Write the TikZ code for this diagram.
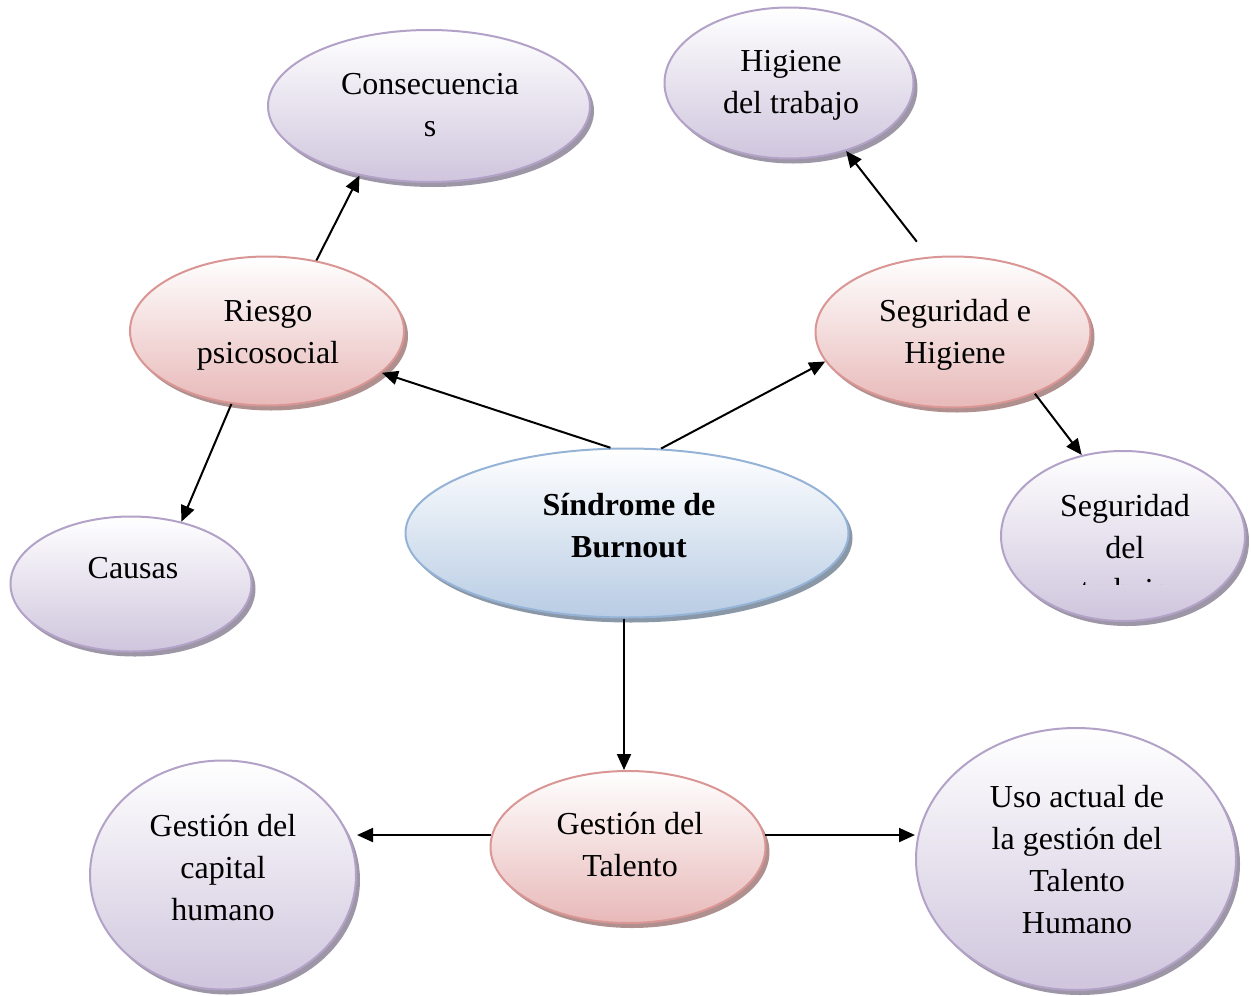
\documentclass[tikz,border=0pt]{standalone}
\usepackage{fontspec}
\setmainfont{Liberation Serif}
\usetikzlibrary{shapes.geometric,shadows,arrows.meta}

\definecolor{lilacline}{HTML}{B3A2C7}
\definecolor{lilacfill}{HTML}{CFC5DD}
\definecolor{roseline}{HTML}{D99694}
\definecolor{rosefill}{HTML}{E8B9B9}
\definecolor{skyline}{HTML}{95B3D7}
\definecolor{skyfill}{HTML}{B8CCE4}

\tikzset{
  oval/.style={ellipse,inner sep=0pt},
  purp/.style={oval,draw=lilacline,top color=white,bottom color=lilacfill,
    drop shadow={shadow xshift=4pt,shadow yshift=-5pt,fill=lilacline!65!black,opacity=.7}},
  rosy/.style={oval,draw=roseline,top color=white,bottom color=rosefill,
    drop shadow={shadow xshift=4pt,shadow yshift=-5pt,fill=roseline!65!black,opacity=.7}},
  blu/.style={oval,draw=skyline,top color=white,bottom color=skyfill,
    drop shadow={shadow xshift=4pt,shadow yshift=-5pt,fill=skyline!60!black,opacity=.7}},
  tx/.style={inner sep=0pt,align=center,font=\fontsize{32}{42}\selectfont}
}

\begin{document}
\begin{tikzpicture}[x=1pt,y=-1pt,line width=2pt,>={Triangle[length=16pt,width=14pt]}]
  \useasboundingbox (0,0) rectangle (1251,996);

  % ovals
  \node[purp,minimum width=322pt,minimum height=152pt] (co) at (429,106) {};
  \node[purp,minimum width=249pt,minimum height=151pt] (hi) at (789,83) {};
  \node[rosy,minimum width=274pt,minimum height=149pt] (ri) at (267,331) {};
  \node[rosy,minimum width=275pt,minimum height=151pt] (sh) at (953,332) {};
  \node[blu,minimum width=443pt,minimum height=169pt] (bo) at (627,533) {};
  \node[purp,minimum width=241pt,minimum height=135pt] (ca) at (131,584) {};
  \node[purp,minimum width=244pt,minimum height=170pt] (st) at (1123,536) {};
  \node[rosy,minimum width=275pt,minimum height=152pt] (ta) at (628,847) {};
  \node[purp,minimum width=266pt,minimum height=229pt] (gc) at (223,875) {};
  \node[purp,minimum width=320pt,minimum height=262pt] (us) at (1076,859) {};

  % texts
  \node[tx] (co-t) at (430,105) {Consecuencia\\s};
  \node[tx] (hi-t) at (791,85) {Higiene\\del trabajo};
  \node[tx] (ri-t) at (268,335) {Riesgo\\psicosocial};
  \node[tx] (sh-t) at (955,335) {Seguridad e\\Higiene};
  \node[tx,font=\fontsize{32}{42}\selectfont\bfseries] (bo-t) at (629,526) {Síndrome de\\Burnout};
  \node[tx] (ca-t) at (133,568) {Causas};
  \begin{scope}
    \clip (1000,440) rectangle (1250,584);
    \node[tx] (st-t) at (1125,551) {Seguridad\\del\\trabajo};
  \end{scope}
  \node[tx] (ta-t) at (630,845) {Gestión del\\Talento};
  \node[tx] (gc-t) at (223,868) {Gestión del\\capital\\humano};
  \node[tx] (us-t) at (1077,860) {Uso actual de\\la gestión del\\Talento\\Humano};

  % arrows
  \draw[->] (bo.101) -- (ri.-20);
  \draw[->] (bo.68) -- (sh.193);
  \draw[->] (ri.55) -- (co.225);
  \draw[->] (ri.244) -- (ca.51);
  \draw[->,shorten <=19pt] (sh.108) -- (hi.-50);
  \draw[->] (sh.-37) -- (st.117);
  \draw[->] ([xshift=-3pt]bo.south) -- ([xshift=-3pt]bo.south |- ta.north);
  \draw[->] (ta.175) -- (ta.175 -| gc.east);
  \draw[->] (ta.5) -- (ta.5 -| us.west);
\end{tikzpicture}
\end{document}
